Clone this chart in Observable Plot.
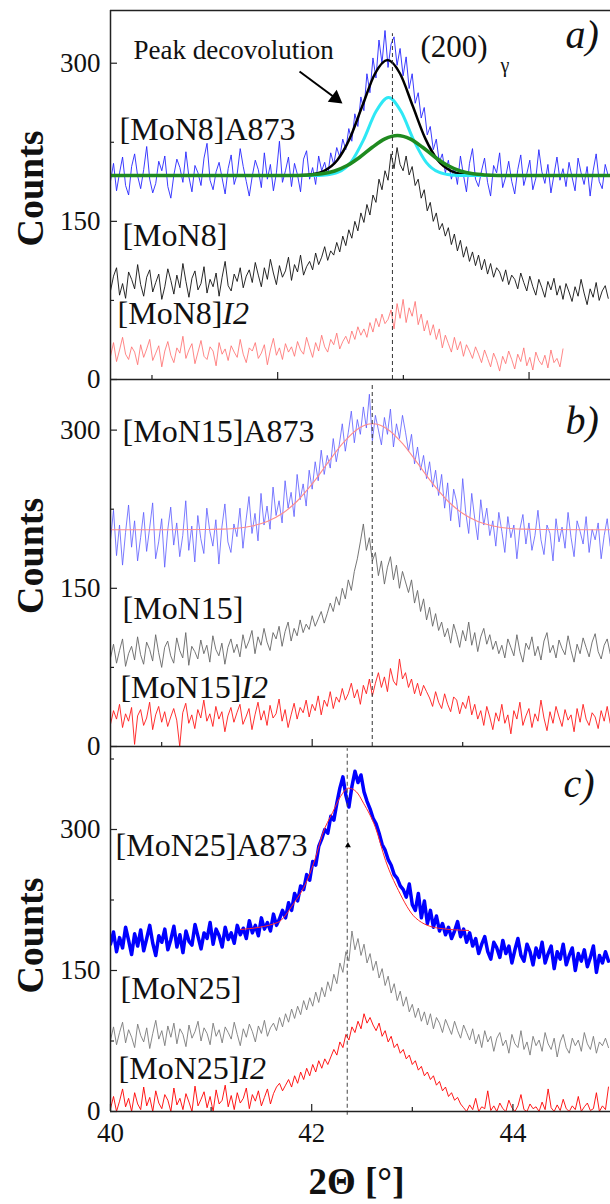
<!DOCTYPE html>
<html><head><meta charset="utf-8">
<script src="https://cdn.jsdelivr.net/npm/d3@7"></script>
<script src="https://cdn.jsdelivr.net/npm/@observablehq/plot@0.6"></script>
<style>
html,body{margin:0;padding:0;background:#fff;}
#chart{position:relative;width:610px;height:1204px;overflow:hidden;background:#fff;}
#chart svg{position:absolute;left:0;background:none;max-width:none;}
</style></head><body><div id="chart"></div>
<script>
// ---------- Panel a) : MoN8 ----------
const a_x0 = 40.67, a_step = 0.024;
const mon8A873 = [188,205,179,196,211,184,175,202,214,193,181,199,221,190,177,186,207,198,212,183,
 172,194,209,201,187,216,192,178,203,196,184,210,224,189,180,197,206,191,176,200,
 213,185,195,219,202,188,174,193,208,199,182,215,190,204,179,196,226,187,198,211,
 183,205,194,178,209,217,190,201,185,212,198,206,193,
 215,204,220,211,228,218,238,226,252,240,268,255,290,272,305,286,322,300,331,296,
 318,325,298,314,288,306,276,290,262,272,248,258,232,240,218,228,206,214,196,208,190,
 201,185,212,194,178,205,219,190,183,198,210,187,174,203,196,215,182,192,207,188,
 176,199,213,184,195,208,180,191,218,197,186,204,177,194,211,189,200,183,206,192,
 179,210,196,185,202,174,198,214,188,181,204,193];
const mon8 = [84,98,106,80,91,77,102,95,86,109,90,79,97,104,83,92,100,76,88,105,
 94,81,99,87,110,93,78,96,103,85,91,107,82,95,88,101,79,97,112,89,
 84,100,93,106,87,98,104,92,111,99,88,106,95,114,101,90,108,97,103,116,
 94,109,102,118,99,107,112,104,120,109,116,126,113,
 122,118,130,121,136,127,142,134,150,141,158,149,166,156,175,168,190,180,198,189,
 214,200,220,204,198,212,194,202,184,190,172,180,160,168,150,158,142,148,
 136,144,128,138,122,132,116,126,112,121,108,118,104,114,100,110,97,106,102,93,
 104,90,99,95,86,101,92,84,98,88,80,95,87,78,93,85,96,80,89,76,
 91,83,74,88,79,95,82,71,86,78,92,75,84,89,77];
const mon8I2 = [22,35,17,28,40,24,19,31,26,14,33,21,29,38,18,25,32,12,27,36,
 23,16,30,25,41,20,28,34,15,26,37,22,19,31,27,13,35,24,29,18,
 32,26,21,38,24,16,30,27,35,20,25,33,14,28,39,23,30,19,34,26,
 31,22,36,28,24,40,30,21,35,27,42,31,26,38,33,44,29,36,41,
 34,46,38,50,42,48,40,54,45,58,50,62,53,57,
 66,48,72,58,76,54,68,60,74,52,
 62,46,56,42,52,38,48,
 30,42,34,26,40,28,36,22,33,27,20,31,24,
 16,28,20,12,25,18,8,22,15,27,19,10,24,17,30,13,21,9,26,18,14,23,11,28,16,20,12,29];
const fitSumX = [40.67,42.074,42.174,42.274,42.374,42.474,42.574,42.674,42.774,42.874,42.974,43.074,43.174,43.274,43.374,43.474,43.574,43.674,44.648];
const fitSumY = [193.5,193.5,193.7,194.7,198.2,208.0,228.7,259.6,290.0,303.0,290.0,259.6,228.7,208.0,198.2,194.7,193.7,193.5,193.5];
const fitC1X = [40.67,42.182,42.282,42.382,42.482,42.582,42.682,42.782,42.882,42.982,43.082,43.182,43.282,43.382,43.482,43.582,44.648];
const fitC1Y = [193.5,193.5,193.5,194.0,196.6,206.0,227.1,254.2,267.5,254.2,227.1,206.0,196.6,194.0,193.5,193.5,193.5];
const fitC2X = [40.67,42.053,42.153,42.253,42.353,42.453,42.553,42.653,42.753,42.853,42.953,43.053,43.153,43.253,43.353,43.453,43.553,43.653,43.753,43.853,44.648];
const fitC2Y = [193.5,193.5,193.6,194.0,195.1,197.8,202.9,210.8,220.3,228.3,231.5,228.3,220.3,210.8,202.9,197.8,195.1,194.0,193.6,193.5,193.5];
const peakA = 42.913;

// ---------- Panel b) : MoN15 ----------
const b_x0 = 40.66, b_step = 0.02;
const mon15A873 = [196,224,181,210,172,203,229,189,214,176,198,222,185,207,231,178,194,216,170,205,
 227,191,212,180,200,233,186,209,175,219,197,183,226,204,190,215,173,208,230,194,184,211,
 199,226,188,214,237,202,221,195,240,210,228,206,246,219,233,212,252,226,241,218,258,234,249,228,
 262,244,270,252,281,258,276,264,292,270,286,
 306,280,298,318,288,310,296,322,302,334,290,314,300,286,312,296,320,284,306,292,314,298,
 280,296,268,284,262,276,254,270,246,262,238,258,
 226,250,214,244,232,208,254,222,202,240,216,196,234,210,226,200,
 214,190,222,204,184,218,198,210,178,206,220,192,212,186,200,224,196,182,210,202,
 176,216,194,208,188,222,198,180,214,204,192,218,184,206,196,212,178,200,216,190];
const mon15 = [84,97,79,91,102,76,88,95,82,104,87,78,99,92,81,106,89,75,94,100,
 86,79,103,91,84,108,77,95,90,83,101,88,96,80,105,92,86,98,78,94,102,89,
 97,85,106,93,100,110,88,104,96,112,99,91,108,102,114,95,109,118,100,112,105,120,108,116,
 111,124,114,121,128,117,126,
 136,128,142,134,150,140,158,148,166,
 178,194,211,186,198,176,
 184,162,176,154,170,180,158,172,150,166,156,
 146,158,136,148,128,140,120,132,114,126,110,
 118,104,112,98,116,106,94,110,100,118,96,108,90,104,112,97,106,92,
 100,88,96,84,102,94,86,106,90,80,98,92,104,86,95,82,100,108,89,96,
 84,101,93,87,105,91,80,97,88,103,94,85,99,107,90,83,96,102,88];
const mon15I2 = [21,34,26,40,18,31,24,37,2,29,35,20,27,42,16,30,38,23,33,19,
 28,36,25,0,32,41,22,30,17,35,27,44,24,31,19,38,26,33,14,29,
 37,23,32,40,21,28,36,16,30,42,25,34,20,39,27,31,45,24,35,18,30,41,26,37,32,44,
 28,40,34,48,30,44,38,52,36,47,42,
 55,44,50,60,46,54,40,58,50,64,48,
 60,70,56,66,52,74,62,58,83,64,70,
 56,64,50,60,48,58,52,
 46,38,52,42,36,50,40,33,47,44,31,42,36,48,30,40,
 26,34,20,38,28,16,32,24,40,22,30,12,34,26,42,20,29,36,18,31,
 24,44,27,15,33,22,38,28,19,35,25,30,14,36,23,40,26,20,32,28,17,34,24,38,22];
const fitBX = [40.66,41.301,41.401,41.501,41.601,41.701,41.801,41.901,42.001,42.101,42.201,42.301,42.401,42.501,42.601,42.701,42.801,42.901,43.001,43.101,43.201,43.301,43.401,43.501,43.982];
const fitBY = [205.5,205.7,206.1,207.0,209.1,213.3,220.9,232.8,249.2,268.4,287.1,300.9,306.0,300.9,287.1,268.4,249.2,232.8,220.9,213.3,209.1,207.0,206.1,205.7,205.5];
const peakB = 42.399;

// ---------- Panel c) : MoN25 ----------
const c_x0 = 40.0, c_step = 0.03;
const mon25A873 = [178,191,170,185,174,196,182,167,189,176,193,171,184,198,179,166,187,180,194,172,
 183,197,175,188,169,192,181,177,199,186,173,190,184,201,178,194,187,175,196,183,190,179,198,188,
 195,184,203,190,198,187,206,194,201,192,210,198,205,
 214,206,222,214,232,224,240,236,
 252,246,266,262,282,290,
 300,296,314,310,328,
 344,356,336,324,346,362,350,358,
 340,330,322,312,306,
 296,284,278,268,
 262,252,248,240,236,228,
 242,220,214,232,206,224,200,214,196,208,192,
 200,188,196,184,192,202,186,194,180,190,176,
 184,168,178,186,170,162,180,174,164,182,168,176,158,172,184,166,160,178,170,156,
 174,164,180,158,168,176,152,170,162,178,156,166,174,150,168,160,172,154,164,176,
 148,166,158,170,160];
const mon25 = [76,90,71,84,95,73,87,79,68,93,81,74,89,67,83,97,77,86,70,91,
 79,94,72,88,82,69,92,78,85,96,75,89,83,71,94,80,87,73,90,84,
 77,95,82,70,88,79,93,85,74,91,83,97,80,89,
 94,86,100,90,104,95,109,99,112,103,118,108,121,112,127,116,132,122,138,128,
 146,136,158,148,170,160,192,172,184,166,178,158,168,
 150,160,142,152,134,144,126,136,118,128,112,122,106,
 114,100,110,96,106,92,104,88,100,94,84,98,90,82,96,86,78,92,84,
 76,88,72,82,68,86,74,80,64,78,84,70,76,62,82,72,68,86,66,74,
 60,80,70,76,64,84,72,66,78,58,74,82,68,62,78,70,76,64,84,72,
 66,80,62,74,70,78,68];
const mon25I2 = [3,16,0,11,24,5,14,0,20,8,2,26,6,15,0,22,9,3,18,12,
 0,25,7,14,2,19,10,0,27,6,13,21,4,16,0,23,8,12,28,5,
 17,2,20,9,14,25,3,18,11,22,6,15,24,8,19,
 26,30,22,28,
 34,26,38,30,42,34,46,38,50,42,54,46,56,50,58,
 66,60,74,68,82,76,90,84,
 96,88,104,94,100,92,
 86,94,80,86,74,80,68,72,62,
 66,56,60,50,54,44,48,38,42,34,
 38,28,32,22,26,16,20,12,15,8,
 4,0,7,2,14,0,5,3,22,1,6,0,9,3,0,12,4,0,6,18,
 2,0,8,3,5,0,10,2,24,4,0,7,1,13,3,0,6,2,16,0,
 5,9,1,3,20,0,6,2,26];
const fitCX = [41.292,41.660,41.819,41.938,42.038,42.107,42.207,42.286,42.366,42.445,42.515,42.634,42.734,42.863,43.032,43.260,43.559];
const fitCY = [193.6,201,221,242,270,295,318,335,344,340,328,302,267,235,206,195,192.6];
const peakC = 42.353;

const yTicks = [0, 150, 300];
const labelsA = ["[MoN8]A873", "[MoN8]", "[MoN8]I2"];
const labelsB = ["[MoN15]A873", "[MoN15]", "[MoN15]I2"];
const labelsC = ["[MoN25]A873", "[MoN25]", "[MoN25]I2"];

// ---------- helpers ----------
const toPts = (x0, step, vals) => vals.map((v, i) => ({x: x0 + i * step, y: v}));
const zipPts = (xs, ys) => xs.map((x, i) => ({x, y: ys[i]}));
const FONT = "'Liberation Serif','Times New Roman',serif";
const AX = "#222";

function frameMarks(xd, yd, innerH, minorY, xMajor, xMinor, top) {
  const m = [
    Plot.ruleX([xd[0]], {stroke: AX, strokeWidth: 1.5}),
    Plot.ruleY([yd[0]], {stroke: AX, strokeWidth: 1.5}),
    Plot.tickY(yTicks, {y: d => d, stroke: AX, strokeWidth: 1.2, insetRight: 500 - 7}),
    Plot.tickY(minorY, {y: d => d, stroke: AX, strokeWidth: 1.2, insetRight: 500 - 4}),
    Plot.tickX(xMajor, {x: d => d, stroke: AX, strokeWidth: 1.2, insetTop: innerH - 7}),
    Plot.tickX(xMinor, {x: d => d, stroke: AX, strokeWidth: 1.2, insetTop: innerH - 4}),
    Plot.axisY({ticks: yTicks, tickSize: 0, tickPadding: 10, fontSize: 27, fontFamily: FONT, label: null, fill: "#111"})
  ];
  if (top) m.push(Plot.ruleY([yd[1]], {stroke: AX, strokeWidth: 1.5}));
  return m;
}
function countsLabel(x, y) {
  return Plot.text(["Counts"], {x: () => x, y: () => y, text: d => d, rotate: -90, dx: -80,
    fontSize: 38, fontWeight: "bold", fontFamily: FONT, fill: "#111"});
}
function lbl(text, x, y, size, extra = {}) {
  return Plot.text([text], {x: () => x, y: () => y, text: d => d, textAnchor: "start",
    lineAnchor: "bottom", fontSize: size, fontFamily: FONT, fill: "#111", ...extra});
}
function italicize(svg) {
  d3.select(svg).selectAll("text").each(function () {
    const t = this.textContent;
    if (/\]I2$/.test(t) && this.childElementCount === 0) {
      const base = t.slice(0, -2);
      this.textContent = "";
      const s = d3.select(this);
      s.append("tspan").text(base);
      s.append("tspan").attr("font-style", "italic").text("I2");
    }
  });
}
function place(plot, top) {
  plot.style.top = top + "px";
  italicize(plot);
  document.getElementById("chart").appendChild(plot);
}

// ---------- Panel a ----------
{
  const xd = [40.67, 44.648], yd = [0, 350.0];
  const plot = Plot.plot({
    width: 610, height: 395, marginLeft: 110, marginRight: 0, marginTop: 10, marginBottom: 16,
    style: {fontFamily: FONT, background: "none"},
    x: {domain: xd, axis: null}, y: {domain: yd},
    marks: [
      Plot.line(toPts(a_x0, a_step, mon8A873), {x: "x", y: "y", stroke: "#2626ff", strokeWidth: 0.9, clip: true}),
      Plot.line(toPts(a_x0, a_step, mon8), {x: "x", y: "y", stroke: "#111", strokeWidth: 0.9, clip: true}),
      Plot.line(toPts(a_x0, a_step, mon8I2), {x: "x", y: "y", stroke: "#ff6a6a", strokeWidth: 0.8, clip: true}),
      Plot.line(zipPts(fitSumX, fitSumY), {x: "x", y: "y", stroke: "#000", strokeWidth: 2.5, curve: "monotone-x", clip: true}),
      Plot.line(zipPts(fitC1X, fitC1Y), {x: "x", y: "y", stroke: "#2ee8f5", strokeWidth: 3, curve: "monotone-x", clip: true}),
      Plot.line(zipPts(fitC2X, fitC2Y), {x: "x", y: "y", stroke: "#1f8a1f", strokeWidth: 3.5, curve: "monotone-x", clip: true}),
      Plot.ruleX([peakA], {y1: 0, y2: 328, stroke: "#333", strokeWidth: 1, strokeDasharray: "4,3"}),
      ...frameMarks(xd, yd, 369, [75, 225], [42, 44], [41, 43], true),
      countsLabel(xd[0], 181.2),
      lbl(labelsA[0], 40.742, 226.8, 32),
      lbl(labelsA[1], 40.765, 127.1, 32),
      lbl(labelsA[2], 40.726, 53.1, 32),
      lbl("Peak decovolution", 40.853, 303.6, 27),
      lbl("(200)", 43.136, 305.5, 31),
      lbl("\u03b3", 43.773, 291.3, 20),
      lbl("a)", 44.29, 314, 40, {fontStyle: "italic"}),
      Plot.link([0], {x1: () => 42.174, y1: () => 292.2, x2: () => 42.461, y2: () => 266.7, stroke: "#000", strokeWidth: 2}),
      Plot.dot([0], {x: () => 42.461, y: () => 266.7, symbol: "triangle", r: 5.5, rotate: 127, fill: "#000", stroke: "none"})
    ]
  });
  place(plot, 0);
}

// ---------- Panel b ----------
{
  const xd = [40.66, 43.982], yd = [0, 348.0];
  const plot = Plot.plot({
    width: 610, height: 392, marginLeft: 110, marginRight: 0, marginTop: 9, marginBottom: 16,
    style: {fontFamily: FONT, background: "none"},
    x: {domain: xd, axis: null}, y: {domain: yd},
    marks: [
      Plot.line(toPts(b_x0, b_step, mon15A873), {x: "x", y: "y", stroke: "#5a5aff", strokeWidth: 0.8, clip: true}),
      Plot.line(zipPts(fitBX, fitBY), {x: "x", y: "y", stroke: "#ff8c8c", strokeWidth: 1.1, curve: "monotone-x", clip: true}),
      Plot.line(toPts(b_x0, b_step, mon15), {x: "x", y: "y", stroke: "#666", strokeWidth: 0.9, clip: true}),
      Plot.line(toPts(b_x0, b_step, mon15I2), {x: "x", y: "y", stroke: "#ff1a1a", strokeWidth: 0.9, clip: true}),
      Plot.ruleX([peakB], {y1: 0, y2: 345, stroke: "#333", strokeWidth: 1, strokeDasharray: "4,3"}),
      ...frameMarks(xd, yd, 367, [75, 225], [42], [41, 43], false),
      countsLabel(xd[0], 180.8),
      lbl(labelsB[0], 40.74, 288.9, 32),
      lbl(labelsB[1], 40.74, 121, 32),
      lbl(labelsB[2], 40.726, 46.2, 32),
      lbl("b)", 43.683, 296.5, 40, {fontStyle: "italic"})
    ]
  });
  place(plot, 370);
}

// ---------- Panel c ----------
{
  const xd = [40, 44.97], yd = [0, 388.3];
  const plot = Plot.plot({
    width: 610, height: 468, marginLeft: 110, marginRight: 0, marginTop: 10, marginBottom: 93,
    style: {fontFamily: FONT, background: "none"},
    x: {domain: xd}, y: {domain: yd},
    marks: [
      Plot.line(toPts(c_x0, c_step, mon25A873), {x: "x", y: "y", stroke: "#0000ff", strokeWidth: 3.5, clip: true}),
      Plot.line(zipPts(fitCX, fitCY), {x: "x", y: "y", stroke: "#ff2a2a", strokeWidth: 1, curve: "monotone-x", clip: true}),
      Plot.line(toPts(c_x0, c_step, mon25), {x: "x", y: "y", stroke: "#7a7a7a", strokeWidth: 0.9, clip: true}),
      Plot.line(toPts(c_x0, c_step, mon25I2), {x: "x", y: "y", stroke: "#ff0000", strokeWidth: 0.9, clip: true}),
      Plot.ruleX([peakC], {y1: -4, y2: 386, stroke: "#444", strokeWidth: 1, strokeDasharray: "4,3"}),
      Plot.dot([0], {x: () => 42.36, y: () => 283, symbol: "triangle", r: 2.2, fill: "#000", stroke: "none"}),
      ...frameMarks(xd, yd, 365, [75, 225, 375], [40, 42, 44], [41, 43], false),
      Plot.axisX({ticks: [40, 42, 44], tickFormat: d => String(d), tickSize: 0, tickPadding: 11, fontSize: 27,
        fontFamily: FONT, label: null, fill: "#111"}),
      countsLabel(xd[0], 187.2),
      Plot.text(["2\u0398 [\u00b0]"], {frameAnchor: "bottom", text: d => d, dx: -4, dy: 82, lineAnchor: "bottom",
        fontSize: 37, fontWeight: "bold", fontFamily: FONT, fill: "#111"}),
      lbl(labelsC[0], 40.05, 272.3, 32),
      lbl(labelsC[1], 40.1, 120.2, 32),
      lbl(labelsC[2], 40.08, 35.1, 32),
      lbl("c)", 44.503, 335, 40, {fontStyle: "italic"})
    ]
  });
  place(plot, 736);
}
</script></body></html>
